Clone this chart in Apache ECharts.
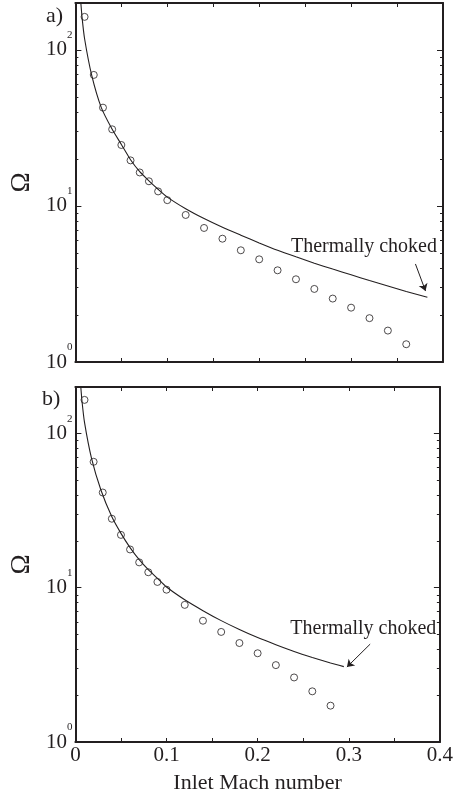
<!DOCTYPE html>
<html>
<head>
<meta charset="utf-8">
<script src="https://cdn.jsdelivr.net/npm/echarts@6/dist/echarts.min.js"></script>
<style>
  html, body { margin: 0; padding: 0; background: #fff; }
  #chart { width: 456px; height: 795px; }
</style>
</head>
<body>
<div id="chart"></div>
<script>
// measured points (circles) and model curve, panel a)
const machTop = [0.01,0.02,0.03,0.04,0.05,0.06,0.07,0.08,0.09,0.10,0.12,0.14,0.16,0.18,0.20,0.22,0.24,0.26,0.28,0.30,0.32,0.34,0.36];
const omegaTop = [163,69.2,42.7,31.0,24.6,19.6,16.4,14.4,12.4,10.9,8.76,7.23,6.17,5.20,4.55,3.87,3.39,2.94,2.55,2.23,1.91,1.59,1.30];
const curveTopMach = [0.0055,0.0072,0.01,0.0177,0.0282,0.04,0.05,0.06,0.07,0.08,0.09,0.10,0.12,0.14,0.16,0.18,0.20,0.22,0.24,0.26,0.28,0.30,0.32,0.34,0.36,0.383];
const curveTopOmega = [215,163,118,69,42.7,31,24.8,19.8,16.6,14.5,12.8,11.4,9.6,8.3,7.3,6.5,5.8,5.2,4.72,4.3,3.94,3.62,3.33,3.07,2.83,2.6];

// panel b)
const machBot = [0.01,0.02,0.03,0.04,0.05,0.06,0.07,0.08,0.09,0.10,0.12,0.14,0.16,0.18,0.20,0.22,0.24,0.26,0.28];
const omegaBot = [165,65.5,41.4,28.0,22.0,17.7,14.6,12.6,10.9,9.71,7.74,6.11,5.17,4.38,3.76,3.15,2.62,2.13,1.72];
const curveBotMach = [0.0055,0.0072,0.01,0.0177,0.028,0.04,0.05,0.06,0.07,0.08,0.09,0.10,0.12,0.14,0.16,0.18,0.20,0.22,0.24,0.26,0.28,0.2946];
const curveBotOmega = [215,163,118,69,43,28.8,22.5,18.2,15.2,13.1,11.5,10.1,8.35,7.1,6.12,5.36,4.75,4.27,3.86,3.53,3.25,3.08];

// "Thermally choked" note position and arrow (mach, omega)
const noteTop = [0.314, 5.46];
const arrowTop = [[0.370, 4.25], [0.381, 2.85]];
const noteBot = [0.316, 5.46];
const arrowBot = [[0.3235, 4.31], [0.298, 3.06]];

const xTicks = [0, 0.1, 0.2, 0.3, 0.4];
const yMajor = [1, 10, 100];
const yMinor = [2,3,4,5,6,7,8,9,20,30,40,50,60,70,80,90,200];

const ink = '#231f20';
const serif = 'Liberation Serif';

const pair = (xs, ys) => xs.map((x, i) => [x, ys[i]]);

let chartDom = document.getElementById('chart');
let myChart = echarts.init(chartDom, null, { renderer: 'canvas' });

function xAx(grid, pos, labels) {
  return {
    type: 'value', gridIndex: grid, position: pos, min: 0, max: 0.4, interval: 0.05,
    axisLine: { show: true, onZero: false, lineStyle: { color: ink, width: 2 } },
    axisTick: { show: true, inside: true, length: 4, lineStyle: { color: ink, width: 1 } },
    axisLabel: {
      show: labels, margin: 3, color: ink, fontFamily: serif, fontSize: 21,
      alignMinLabel: 'center', alignMaxLabel: 'center',
      formatter: v => xTicks.some(t => Math.abs(t - v) < 1e-6) ? String(+v.toFixed(1)) : ''
    },
    splitLine: { show: false },
    name: labels ? 'Inlet Mach number' : '',
    nameLocation: 'middle', nameGap: 30,
    nameTextStyle: { color: ink, fontFamily: serif, fontSize: 22 }
  };
}

function yAx(grid, pos, ticks, len, main) {
  return {
    type: 'log', logBase: 10, gridIndex: grid, position: pos, min: 1, max: 200,
    axisLine: { show: main, lineStyle: { color: ink, width: 2 } },
    axisTick: { show: true, inside: true, length: len, customValues: ticks, lineStyle: { color: ink, width: 1 } },
    axisLabel: {
      show: main && pos === 'left', margin: 3, customValues: yMajor,
      formatter: v => yMajor.includes(v) ? '{b|10}{s|' + Math.round(Math.log10(v)) + '}' : '',
      rich: {
        b: { fontFamily: serif, fontSize: 21, color: ink, lineHeight: 40, verticalAlign: 'middle' },
        s: { fontFamily: serif, fontSize: 11, color: ink, lineHeight: 20, verticalAlign: 'top' }
      }
    },
    splitLine: { show: false },
    minorTick: { show: false },
    name: main && pos === 'left' ? 'Ω' : '',
    nameLocation: 'middle', nameGap: 34,
    nameTextStyle: { color: ink, fontFamily: serif, fontSize: 27 }
  };
}

function panelSeries(k, pts, curve, note, arrow) {
  return [
    {
      type: 'line', xAxisIndex: k * 2, yAxisIndex: k * 4, data: curve,
      showSymbol: false, smooth: 0.2, clip: true,
      lineStyle: { color: ink, width: 1.1 }, silent: true,
      markPoint: {
        symbol: 'circle', symbolSize: 0, silent: true,
        label: { show: true, position: 'inside', formatter: 'Thermally choked',
                 color: ink, fontFamily: serif, fontSize: 20 },
        data: [{ coord: note }]
      },
      markLine: {
        silent: true, symbol: ['none', 'arrow'], symbolSize: 7,
        label: { show: false },
        lineStyle: { color: ink, width: 1, type: 'solid' },
        data: [[{ coord: arrow[0] }, { coord: arrow[1] }]]
      }
    },
    {
      type: 'scatter', xAxisIndex: k * 2, yAxisIndex: k * 4, data: pts,
      symbol: 'circle', symbolSize: 7,
      itemStyle: { color: '#fff', borderColor: ink, borderWidth: 1 }
    }
  ];
}

let option = {
  animation: false,
  backgroundColor: '#fff',
  title: [
    { text: 'a)', left: 41, top: 0, textStyle: { fontFamily: serif, fontSize: 22, fontWeight: 'normal', color: ink } },
    { text: 'b)', left: 37, top: 383, textStyle: { fontFamily: serif, fontSize: 22, fontWeight: 'normal', color: ink } }
  ],
  grid: [
    { left: 65, top: 3, width: 378, height: 359 },
    { left: 65, top: 387, width: 378, height: 358 }
  ],
  xAxis: [
    xAx(0, 'bottom', false), xAx(0, 'top', false),
    xAx(1, 'bottom', true), xAx(1, 'top', false)
  ],
  yAxis: [
    yAx(0, 'left', yMajor, 6, true), yAx(0, 'left', yMinor, 3, false),
    yAx(0, 'right', yMajor, 6, true), yAx(0, 'right', yMinor, 3, false),
    yAx(1, 'left', yMajor, 6, true), yAx(1, 'left', yMinor, 3, false),
    yAx(1, 'right', yMajor, 6, true), yAx(1, 'right', yMinor, 3, false)
  ],
  series: [
    ...panelSeries(0, pair(machTop, omegaTop), pair(curveTopMach, curveTopOmega), noteTop, arrowTop),
    ...panelSeries(1, pair(machBot, omegaBot), pair(curveBotMach, curveBotOmega), noteBot, arrowBot)
  ]
};

option && myChart.setOption(option);
</script>
</body>
</html>
